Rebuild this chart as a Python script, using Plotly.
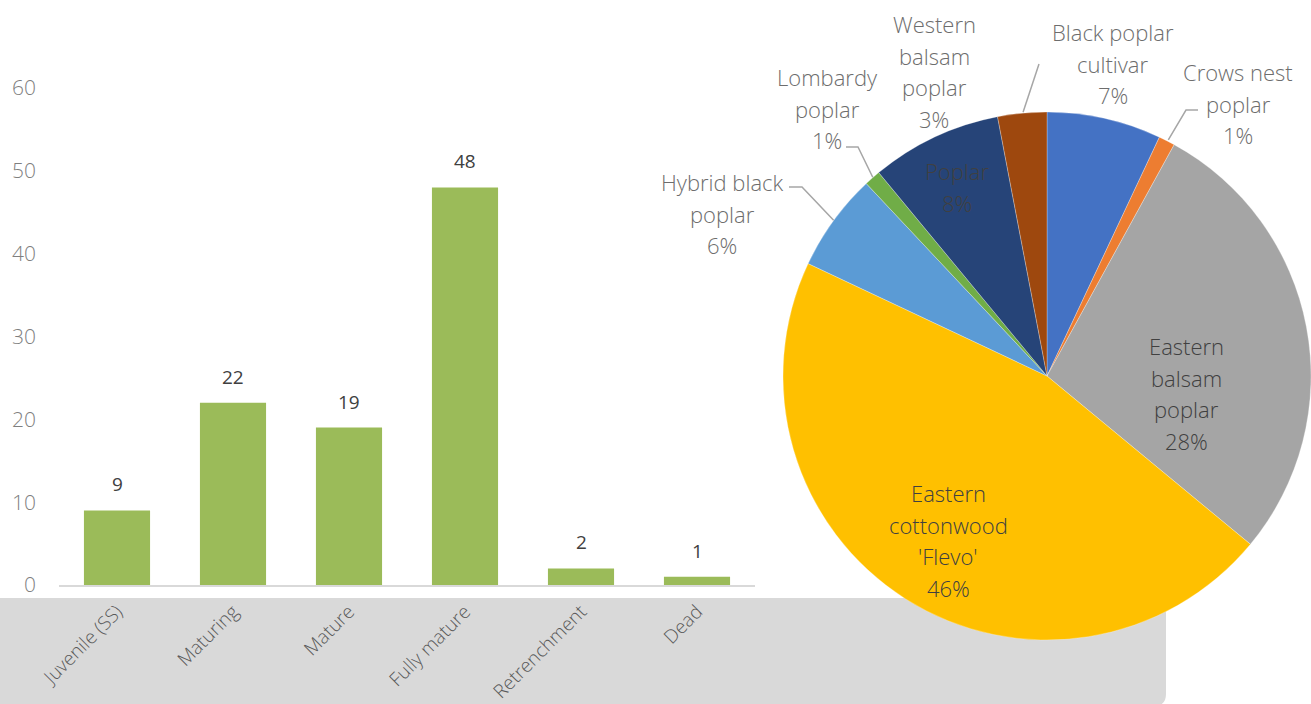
import math
import plotly.graph_objects as go

# ---- data ----
stages = ["Juvenile (SS)", "Maturing", "Mature", "Fully mature", "Retrenchment", "Dead"]
stage_counts = [9, 22, 19, 48, 2, 1]

species = [
    "Black poplar<br>cultivar",
    "Crows nest<br>poplar",
    "Eastern<br>balsam<br>poplar",
    "Eastern<br>cottonwood<br>'Flevo'",
    "Hybrid black<br>poplar",
    "Lombardy<br>poplar",
    "Poplar",
    "Western<br>balsam<br>poplar",
]
species_share = [7, 1, 28, 46, 6, 1, 8, 3]
y_ticks = [0, 10, 20, 30, 40, 50, 60]

# ---- styling ----
W, H = 1311, 704
FONT = "Open Sans, Segoe UI, sans-serif"
LIGHT = 300
slice_colors = ["#4472C4", "#ED7D31", "#A5A5A5", "#FFC000",
                "#5B9BD5", "#70AD47", "#264478", "#9E480E"]
BAR_COLOR = "#9BBB59"


def px(x, y):
    """Pixel position -> paper coordinates."""
    return x / W, 1 - y / H


# bar plot area (pixels)
bx0, bx1 = 59, 755
by_zero, by_top = 585, 88
# pie centre / radius (pixels)
pcx, pcy, pr = 1048, 376, 265

fig = go.Figure()

fig.add_trace(go.Bar(
    x=stages, y=stage_counts, width=0.57,
    marker=dict(color=BAR_COLOR, line=dict(width=0)),
    xaxis="x", yaxis="y", hoverinfo="x+y", showlegend=False,
))

fig.add_trace(go.Pie(
    labels=species, values=species_share, sort=False,
    direction="clockwise", rotation=0,
    marker=dict(colors=slice_colors, line=dict(color="rgba(255,255,255,0.45)", width=0.6)),
    textinfo="none", showlegend=False, hoverinfo="label+percent",
    domain=dict(x=[(pcx - pr) / W, min(1.0, (pcx + pr) / W)],
                y=[(H - pcy - pr) / H, (H - pcy + pr) / H]),
))

annotations = []
# value labels above bars
for cat, v in zip(stages, stage_counts):
    annotations.append(dict(
        x=cat, y=v, xref="x", yref="y", text=str(v), showarrow=False,
        yshift=26, font=dict(family=FONT, size=19, color="#404040", weight=400),
    ))

# pie labels: (centre x, first-line y, colour, leader elbow points)
label_pos = {
    "Black poplar<br>cultivar": (1113, 32, "#6d6d6d", None),
    "Crows nest<br>poplar": (1238, 72, "#6d6d6d", [(1198, 110), (1186, 110)]),
    "Eastern<br>balsam<br>poplar": (1186, 346, "#404040", None),
    "Eastern<br>cottonwood<br>'Flevo'": (948, 493, "#404040", None),
    "Hybrid black<br>poplar": (722, 182, "#6d6d6d", [(789, 187), (802, 187)]),
    "Lombardy<br>poplar": (827, 77, "#6d6d6d", [(846, 147), (858, 147)]),
    "Poplar": (957, 171, "#404040", None),
    "Western<br>balsam<br>poplar": (934, 24, "#6d6d6d", [(1039, 64)]),
}
LINE_GAP = 31.7
total = sum(species_share)
cum = 0
shapes = []
for name, val in zip(species, species_share):
    pct = round(100 * val / total)
    lines = name.split("<br>") + [f"{pct}%"]
    cx, y0, col, elbow = label_pos[name]
    for i, ln in enumerate(lines):
        ax, ay = px(cx, y0 + i * LINE_GAP)
        annotations.append(dict(
            x=ax, y=ay, xref="paper", yref="paper", text=ln, showarrow=False,
            xanchor="center", yanchor="middle",
            font=dict(family=FONT, size=22, color=col, weight=LIGHT),
        ))
    if elbow:
        mid = (cum + val / 2) / total * 2 * math.pi
        ex = pcx + pr * 1.0 * math.sin(mid)
        ey = pcy - pr * 1.0 * math.cos(mid)
        pts = elbow + [(ex, ey)]
        path = "M " + " L ".join(f"{px(x, y)[0]:.5f},{px(x, y)[1]:.5f}" for x, y in pts)
        shapes.append(dict(type="path", path=path, xref="paper", yref="paper",
                           line=dict(color="#a6a6a6", width=1.5), layer="above"))
    cum += val

# grey band behind the category labels (rounded right corners)
gx0, gx1, gy0, gy1, rad = -10, 1166, 598, 706, 12
rx, ry = rad / W, rad / H
X0, Yt = px(gx0, gy0)
X1, Yb = px(gx1, gy1)
band = (f"M {X0},{Yt} L {X1 - rx},{Yt} Q {X1},{Yt} {X1},{Yt - ry} "
        f"L {X1},{Yb + ry} Q {X1},{Yb} {X1 - rx},{Yb} L {X0},{Yb} Z")
shapes.insert(0, dict(type="path", path=band, xref="paper", yref="paper",
                      fillcolor="#d9d9d9", line=dict(width=0), layer="below"))

fig.update_layout(
    width=W, height=H,
    margin=dict(l=0, r=0, t=0, b=0),
    paper_bgcolor="white", plot_bgcolor="rgba(0,0,0,0)",
    font=dict(family=FONT, color="#7f7f7f", weight=LIGHT),
    bargap=0.43,
    xaxis=dict(
        domain=[bx0 / W, bx1 / W], range=[-0.5, 5.5], automargin=False,
        showline=True, linecolor="#d9d9d9", linewidth=2,
        showgrid=False, zeroline=False, ticks="", tickangle=-45,
        ticklabelstandoff=6,
        tickfont=dict(family=FONT, size=19, color="#595959", weight=LIGHT),
    ),
    yaxis=dict(
        domain=[1 - by_zero / H, 1 - by_top / H], range=[0, 60],
        tickvals=y_ticks, automargin=False,
        showline=False, showgrid=False, zeroline=False, ticks="",
        ticklabelstandoff=22,
        tickfont=dict(family=FONT, size=21, color="#7f7f7f", weight=LIGHT),
    ),
    annotations=annotations,
    shapes=shapes,
)

fig.write_html("out.html")
